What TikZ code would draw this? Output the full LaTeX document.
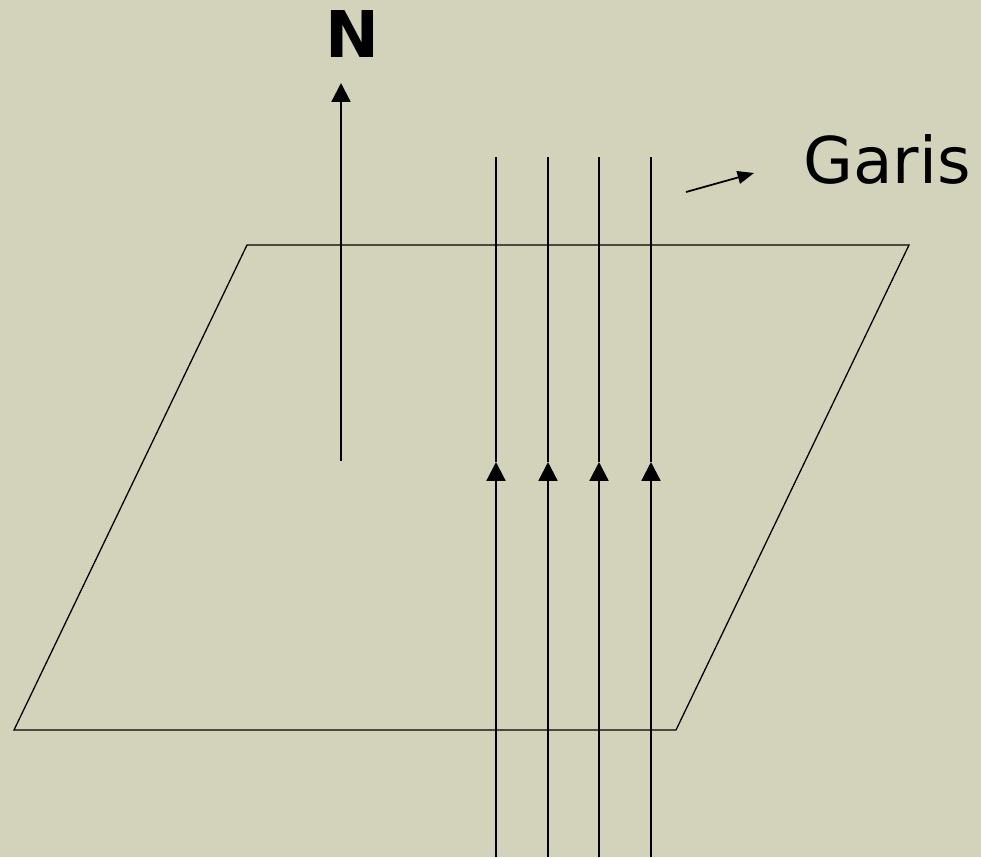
\documentclass[tikz,border=0pt]{standalone}
\usepackage{fontspec}
\setmainfont{DejaVu Sans}
\usetikzlibrary{arrows.meta}
\definecolor{slidebg}{HTML}{D3D3BB}
\begin{document}
\begin{tikzpicture}[x=0.03cm,y=-0.03cm,
        plane line/.style={line width=1.1pt},
        field line/.style={line width=1.9pt},
        big tip/.style={-{Triangle[width=16pt,length=16pt]}},
        small tip/.style={-{Triangle[width=11pt,length=14pt]}},
        big text/.style={inner sep=0pt,font=\fontsize{55}{60}\selectfont}]
        \fill[slidebg](0,0)rectangle(981,857);
        \useasboundingbox(0,0)rectangle(981,857);

        % bidang
        \draw[plane line](247,245)--(909,245)--(676,730)--(14,730)--cycle;

        % normal N
        \node[big text,font=\fontsize{55}{60}\selectfont\bfseries](nlabel)at(352,34){N};
        \coordinate(nbase)at(341,461);
        \coordinate(ntip) at(341,83);
        \draw[field line,big tip](nbase)--(ntip);

        % garis gaya
        \foreach \x [count=\i] in {496,548,599,651}{
          \coordinate(bot\i)at(\x,857);
          \coordinate(mid\i)at(\x,462);
          \coordinate(top\i)at(\x,157);
          \draw[field line,big tip](bot\i)--(mid\i);
          \draw[field line](mid\i)--(top\i);
        }

        \node[big text,anchor=base west](garis)at(803,183){Garis};
        \coordinate(gfrom)at(686,192);
        \coordinate(gto)  at(754,173);
        \draw[line width=1.5pt,small tip](gfrom)--(gto);
      \end{tikzpicture}
\end{document}
